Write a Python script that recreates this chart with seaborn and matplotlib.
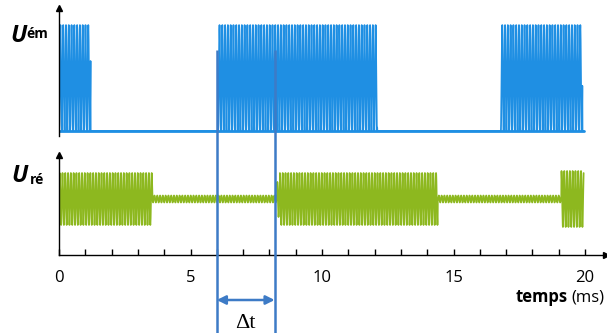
import numpy as np
import pandas as pd
import seaborn as sns
import matplotlib.pyplot as plt

# values (times in ms)
emit_bursts = [(0.0, 1.2), (6.05, 12.1), (16.8, 19.9)]
recv_segments = [(0.0, 3.55, 26), (3.55, 8.3, 3.5), (8.3, 8.4, 18),
                 (8.4, 14.4, 26), (14.4, 19.1, 3.5), (19.1, 19.95, 28)]
carrier_period = 0.106
emit_height = 106
t_end = 19.95
dt_marks = [6.0, 8.2]
tick_values = list(range(0, 21))
tick_labels = ["0", "", "", "", "", "5", "", "", "", "", "10",
               "", "", "", "", "15", "", "", "", "", "20"]

BLUE = "#1f8fe3"
GREEN = "#8db81f"
LINE_BLUE = "#3d7bc6"

# layout (pixels)
W, H = 607, 333
X0, PX_MS = 59, 26.3


def box(left, top, right, bottom):
    return [left / W, 1 - bottom / H, (right - left) / W, (bottom - top) / H]


# build the two signals
t = np.arange(0, t_end, 0.002)
carrier = np.sin(2 * np.pi * t / carrier_period)
u_em = np.zeros_like(t)
for a, b in emit_bursts:
    on = (t >= a) & (t < b)
    u_em[on] = emit_height * (0.5 - 0.5 * np.cos(2 * np.pi * (t[on] - a) / carrier_period))
u_re = np.zeros_like(t)
for a, b, amp in recv_segments:
    on = (t >= a) & (t < b)
    u_re[on] = amp * carrier[on]
df = pd.DataFrame({"t": t, "em": u_em, "re": u_re})

sns.set_theme(style="white")
plt.rcParams["font.family"] = ["Open Sans", "DejaVu Sans"]

fig = plt.figure(figsize=(W / 100, H / 100), dpi=100)

# top panel: emitted signal
ax_top = fig.add_axes(box(X0, 8, 606, 136))
sns.lineplot(data=df, x="t", y="em", ax=ax_top, color=BLUE, linewidth=1.25,
             estimator=None, sort=False)
ax_top.axhline(0, xmax=t_end / ((606 - X0) / PX_MS), color=BLUE, linewidth=2)
ax_top.set_xlim(0, (606 - X0) / PX_MS)
ax_top.set_ylim(-5, 123)
for s in ["top", "right", "bottom"]:
    ax_top.spines[s].set_visible(False)
ax_top.spines["left"].set_color("black")
ax_top.spines["left"].set_linewidth(1.0)
ax_top.set_xticks([])
ax_top.set_yticks([])
ax_top.set_xlabel("")
ax_top.set_ylabel("")
ax_top.plot([0], [1], marker="^", color="black", markersize=5,
            transform=ax_top.transAxes, clip_on=False)

# bottom panel: received signal
ax_bot = fig.add_axes(box(X0, 155, 606, 255))
sns.lineplot(data=df, x="t", y="re", ax=ax_bot, color=GREEN, linewidth=1.25,
             estimator=None, sort=False)
ax_bot.set_xlim(0, (606 - X0) / PX_MS)
ax_bot.set_ylim(-56, 44)
for s in ["top", "right"]:
    ax_bot.spines[s].set_visible(False)
for s in ["left", "bottom"]:
    ax_bot.spines[s].set_color("black")
    ax_bot.spines[s].set_linewidth(1.0)
ax_bot.set_yticks([])
ax_bot.set_xticks(tick_values)
ax_bot.set_xticklabels(tick_labels)
ax_bot.tick_params(axis="x", direction="in", length=4, width=1, pad=11,
                   labelsize=12, colors="black", bottom=True)
ax_bot.set_xlabel("")
ax_bot.set_ylabel("")
ax_bot.plot([0], [1], marker="^", color="black", markersize=5,
            transform=ax_bot.transAxes, clip_on=False)
ax_bot.plot([1], [0], marker=">", color="black", markersize=5,
            transform=ax_bot.transAxes, clip_on=False)

# overlay: delay markers
ax_ov = fig.add_axes([0, 0, 1, 1])
ax_ov.set_xlim(-X0 / PX_MS, (W - X0) / PX_MS)
ax_ov.set_ylim(H, 0)
ax_ov.axis("off")
ax_ov.patch.set_alpha(0)
ax_ov.vlines(dt_marks, 50, H, color=LINE_BLUE, linewidth=1.8)
ax_ov.annotate("", xy=(dt_marks[1], 300), xytext=(dt_marks[0], 300),
               arrowprops=dict(arrowstyle="<|-|>", color=LINE_BLUE, lw=1.8,
                               mutation_scale=13, shrinkA=0, shrinkB=0))
ax_ov.text(sum(dt_marks) / 2, 328, "Δt", family=["Liberation Serif", "DejaVu Serif"],
           fontsize=16, ha="center", va="baseline", color="black")


def ftext(x, y, s, **kw):
    return fig.text(x / W, 1 - y / H, s, va="baseline", color="black", **kw)


ftext(19, 42, "U", ha="center", fontsize=17, fontweight="bold", fontstyle="italic")
ftext(37, 38, "ém", ha="center", fontsize=10, fontweight="bold")
ftext(20, 182, "U", ha="center", fontsize=17, fontweight="bold", fontstyle="italic")
ftext(37, 184, "ré", ha="center", fontsize=10, fontweight="bold")

# axis name: bold "temps" right next to regular "(ms)"
ms = ftext(604, 302, "(ms)", ha="right", fontsize=12)
fig.canvas.draw()
ms_left = ms.get_window_extent().x0
ftext(ms_left - 3, 302, "temps", ha="right", fontsize=12, fontweight="bold")

fig.savefig("out.png", dpi=100)
